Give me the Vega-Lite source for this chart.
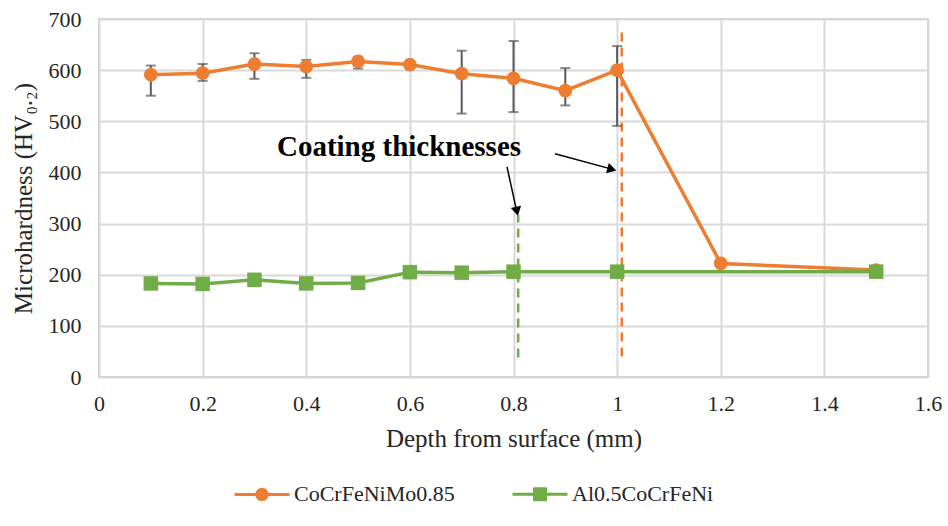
{
  "$schema": "https://vega.github.io/schema/vega-lite/v6.json",
  "width": 829,
  "height": 358,
  "autosize": {"type": "none"},
  "padding": {"left": 99, "top": 19, "right": 20, "bottom": 149},
  "background": "white",
  "config": {
    "view": {"stroke": "#cfcfcf", "strokeWidth": 2},
    "axis": {
      "grid": true, "gridColor": "#d9d9d9", "gridWidth": 2,
      "domain": false, "ticks": false, "labelFlush": false,
      "labelFont": "Liberation Serif", "labelFontSize": 22, "labelColor": "#262626",
      "titleFont": "Liberation Serif", "titleFontSize": 25, "titleFontWeight": "normal", "titleColor": "#262626"
    },
    "legend": {"labelFont": "Liberation Serif", "labelFontSize": 22, "labelColor": "#262626", "labelLimit": 400}
  },
  "datasets": {
    "pts": [
      {"depth": 0.1, "hv": 591, "lo": 550, "hi": 609, "series": "CoCrFeNiMo0.85"},
      {"depth": 0.2, "hv": 594, "lo": 579, "hi": 612, "series": "CoCrFeNiMo0.85"},
      {"depth": 0.3, "hv": 612, "lo": 583, "hi": 633, "series": "CoCrFeNiMo0.85"},
      {"depth": 0.4, "hv": 607, "lo": 585, "hi": 620, "series": "CoCrFeNiMo0.85"},
      {"depth": 0.5, "hv": 617, "lo": 603, "hi": 626, "series": "CoCrFeNiMo0.85"},
      {"depth": 0.6, "hv": 611, "lo": 607, "hi": 615, "series": "CoCrFeNiMo0.85"},
      {"depth": 0.7, "hv": 593, "lo": 515, "hi": 638, "series": "CoCrFeNiMo0.85"},
      {"depth": 0.8, "hv": 584, "lo": 518, "hi": 657, "series": "CoCrFeNiMo0.85"},
      {"depth": 0.9, "hv": 560, "lo": 531, "hi": 604, "series": "CoCrFeNiMo0.85"},
      {"depth": 1.0, "hv": 600, "lo": 491, "hi": 647, "series": "CoCrFeNiMo0.85"},
      {"depth": 1.2, "hv": 222, "lo": 206, "hi": 229, "series": "CoCrFeNiMo0.85"},
      {"depth": 1.5, "hv": 209, "lo": 203, "hi": 213, "series": "CoCrFeNiMo0.85"},
      {"depth": 0.1, "hv": 183, "lo": 175, "hi": 191, "series": "Al0.5CoCrFeNi"},
      {"depth": 0.2, "hv": 182, "lo": 174, "hi": 190, "series": "Al0.5CoCrFeNi"},
      {"depth": 0.3, "hv": 190, "lo": 181, "hi": 199, "series": "Al0.5CoCrFeNi"},
      {"depth": 0.4, "hv": 183, "lo": 177, "hi": 189, "series": "Al0.5CoCrFeNi"},
      {"depth": 0.5, "hv": 184, "lo": 178, "hi": 190, "series": "Al0.5CoCrFeNi"},
      {"depth": 0.6, "hv": 205, "lo": 201, "hi": 209, "series": "Al0.5CoCrFeNi"},
      {"depth": 0.7, "hv": 204, "lo": 201, "hi": 207, "series": "Al0.5CoCrFeNi"},
      {"depth": 0.8, "hv": 206, "lo": 201, "hi": 211, "series": "Al0.5CoCrFeNi"},
      {"depth": 1.0, "hv": 206, "lo": 201, "hi": 211, "series": "Al0.5CoCrFeNi"},
      {"depth": 1.5, "hv": 206, "lo": 202, "hi": 210, "series": "Al0.5CoCrFeNi"}
    ],
    "dash": [
      {"depth": 1.009, "from": 40, "to": 680, "series": "CoCrFeNiMo0.85"},
      {"depth": 0.809, "from": 38, "to": 317, "series": "Al0.5CoCrFeNi"}
    ],
    "note": [
      {"depth": 0.579, "hv": 449, "label": "Coating thicknesses"}
    ],
    "arrows": [
      {"id": "a1", "depth": 0.880, "hv": 436.6, "depth2": 0.995, "hv2": 405},
      {"id": "a2", "depth": 0.7875, "hv": 411, "depth2": 0.806, "hv2": 325}
    ],
    "heads": [
      {"id": "a1", "depth": 0.987, "hv": 406.9},
      {"id": "a2", "depth": 0.806, "hv": 326.7}
    ]
  },
  "encoding": {
    "x": {"type": "quantitative", "scale": {"domain": [0, 1.6], "nice": false, "zero": false}},
    "y": {"type": "quantitative", "scale": {"domain": [0, 700], "nice": false}}
  },
  "layer": [
    {
      "data": {"name": "dash"},
      "mark": {"type": "rule", "strokeDash": [9, 6], "strokeWidth": 2.5},
      "encoding": {
        "x": {"field": "depth", "type": "quantitative"},
        "y": {"field": "from", "type": "quantitative"},
        "y2": {"field": "to"},
        "color": {"field": "series", "type": "nominal", "scale": {"domain": ["Al0.5CoCrFeNi", "CoCrFeNiMo0.85"], "range": ["#70AD47", "#ED7D31"]}, "legend": null}
      }
    },
    {
      "data": {"name": "pts"},
      "mark": {"type": "errorbar", "color": "#595959", "thickness": 2, "ticks": {"size": 10, "thickness": 2, "color": "#595959"}, "rule": {"strokeWidth": 2, "color": "#595959"}},
      "encoding": {
        "x": {"field": "depth", "type": "quantitative", "title": "Depth from surface (mm)",
              "axis": {"values": [0, 0.2, 0.4, 0.6, 0.8, 1, 1.2, 1.4, 1.6], "format": "~g", "labelPadding": 16, "titlePadding": 12}},
        "y": {"field": "lo", "type": "quantitative", "title": "Microhardness (HV₀.₂)",
              "axis": {"values": [0, 100, 200, 300, 400, 500, 600, 700], "labelPadding": 18, "titlePadding": 12}},
        "y2": {"field": "hi"}
      }
    },
    {
      "data": {"name": "pts"},
      "mark": {"type": "line", "strokeWidth": 3.5},
      "encoding": {
        "x": {"field": "depth", "type": "quantitative"},
        "y": {"field": "hv", "type": "quantitative"},
        "color": {"field": "series", "type": "nominal", "legend": null}
      }
    },
    {
      "data": {"name": "pts"},
      "transform": [{"filter": "datum.series === 'CoCrFeNiMo0.85'"}],
      "mark": {"type": "point", "shape": "circle", "filled": true, "opacity": 1, "size": 190, "color": "#ED7D31"},
      "encoding": {
        "x": {"field": "depth", "type": "quantitative"},
        "y": {"field": "hv", "type": "quantitative"}
      }
    },
    {
      "data": {"name": "pts"},
      "transform": [{"filter": "datum.series === 'Al0.5CoCrFeNi'"}],
      "mark": {"type": "point", "shape": "square", "filled": true, "opacity": 1, "size": 210, "color": "#70AD47"},
      "encoding": {
        "x": {"field": "depth", "type": "quantitative"},
        "y": {"field": "hv", "type": "quantitative"}
      }
    },
    {
      "data": {"name": "pts"},
      "mark": {"type": "point", "filled": true, "size": 0, "strokeWidth": 0},
      "encoding": {
        "x": {"field": "depth", "type": "quantitative"},
        "y": {"field": "hv", "type": "quantitative"},
        "fill": {"field": "series", "type": "nominal", "scale": {"domain": ["CoCrFeNiMo0.85", "Al0.5CoCrFeNi"], "range": ["#ED7D31", "#70AD47"]},
                 "legend": {"title": null, "orient": "none", "direction": "horizontal", "legendX": 134, "legendY": 446, "symbolSize": 3025, "symbolStrokeWidth": 3, "symbolOpacity": 1, "labelLimit": 400}},
        "stroke": {"field": "series", "type": "nominal", "scale": {"domain": ["CoCrFeNiMo0.85", "Al0.5CoCrFeNi"], "range": ["#ED7D31", "#70AD47"]},
                   "legend": {"title": null, "orient": "none", "direction": "horizontal", "legendX": 134, "legendY": 446, "symbolSize": 3025, "symbolStrokeWidth": 3, "symbolOpacity": 1, "labelLimit": 400}},
        "shape": {"field": "series", "type": "nominal",
                  "scale": {"domain": ["CoCrFeNiMo0.85", "Al0.5CoCrFeNi"], "range": ["M-1,0H1M-0.19,0A0.19,0.19 0 1,1 0.19,0A0.19,0.19 0 1,1 -0.19,0Z", "M-1,0H1M-0.2,-0.2H0.2V0.2H-0.2Z"]},
                  "legend": {"title": null, "orient": "none", "direction": "horizontal", "legendX": 134, "legendY": 446, "symbolSize": 3025, "symbolStrokeWidth": 3, "symbolOpacity": 1, "labelOffset": 3, "columnPadding": 51, "padding": 0, "labelLimit": 400}}
      }
    },
    {
      "data": {"name": "note"},
      "mark": {"type": "text", "font": "Liberation Serif", "fontWeight": "bold", "fontSize": 29, "color": "#000000", "align": "center", "baseline": "middle"},
      "encoding": {
        "x": {"field": "depth", "type": "quantitative"},
        "y": {"field": "hv", "type": "quantitative"},
        "text": {"field": "label"}
      }
    },
    {
      "data": {"name": "arrows"},
      "mark": {"type": "rule", "color": "#000000", "strokeWidth": 1.5},
      "encoding": {
        "x": {"field": "depth", "type": "quantitative"},
        "y": {"field": "hv", "type": "quantitative"},
        "x2": {"field": "depth2"},
        "y2": {"field": "hv2"}
      }
    },
    {
      "data": {"name": "heads"},
      "transform": [{"filter": "datum.id === 'a1'"}],
      "mark": {"type": "point", "shape": "triangle", "filled": true, "opacity": 1, "color": "#000000", "size": 110, "angle": 105},
      "encoding": {
        "x": {"field": "depth", "type": "quantitative"},
        "y": {"field": "hv", "type": "quantitative"}
      }
    },
    {
      "data": {"name": "heads"},
      "transform": [{"filter": "datum.id === 'a2'"}],
      "mark": {"type": "point", "shape": "triangle", "filled": true, "opacity": 1, "color": "#000000", "size": 110, "angle": 168},
      "encoding": {
        "x": {"field": "depth", "type": "quantitative"},
        "y": {"field": "hv", "type": "quantitative"}
      }
    }
  ]
}
